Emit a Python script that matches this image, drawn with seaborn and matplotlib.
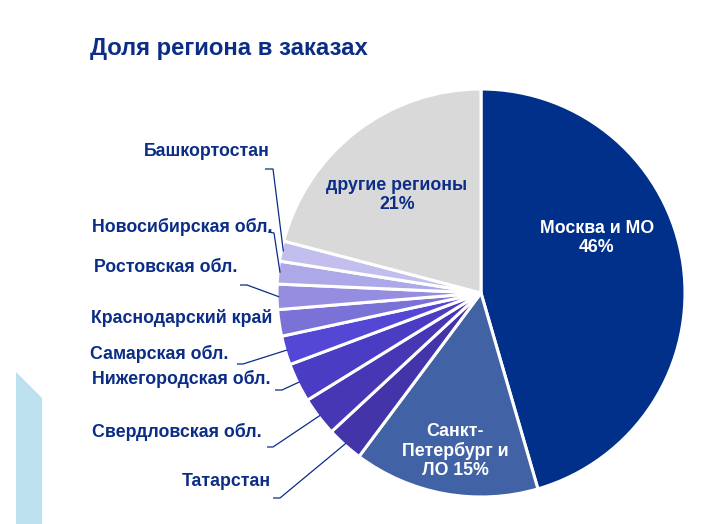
import numpy as np
import matplotlib
matplotlib.use("Agg")
import matplotlib.pyplot as plt
import seaborn as sns
from matplotlib.patches import Polygon

# ---- data ----
regions = ["Москва и МО", "Санкт-Петербург и ЛО", "Татарстан", "Свердловская обл.",
           "Нижегородская обл.", "Самарская обл.", "Краснодарский край",
           "Ростовская обл.", "Новосибирская обл.", "Башкортостан", "другие регионы"]
shares = [45.5, 14.7, 2.9, 3.1, 3.1, 2.3, 2.1, 2.0, 1.8, 1.6, 20.9]
inner_labels = {0: "Москва и МО\n46%", 1: "Санкт-\nПетербург и\nЛО 15%", 10: "другие регионы\n21%"}
colors = ["#00308A", "#4262A6", "#4334A9", "#4637B5", "#4B3DC3", "#5447D6",
          "#7B72D8", "#958DDF", "#ADA8E7", "#C2BFEF", "#D9D9D9"]

sns.set_theme(style="white")
plt.rcParams['font.family'] = ['Liberation Sans', 'DejaVu Sans']

W, H = 709, 524
fig = plt.figure(figsize=(W / 100, H / 100), dpi=100)
ax = fig.add_axes([0, 0, 1, 1])

def Y(y):
    return H - y

navy = "#0B2D86"

cx, cy, R = 481, Y(293), 204
wedges, _ = ax.pie(shares, colors=colors, startangle=90, counterclock=False,
                   center=(cx, cy), radius=R, frame=True,
                   wedgeprops=dict(edgecolor='white', linewidth=2.2))
ax.set_xlim(0, W)
ax.set_ylim(0, H)
ax.set_aspect('equal')
ax.axis('off')

# decorative shape
ax.add_patch(Polygon([(16, Y(372)), (42, Y(398)), (42, Y(524)), (16, Y(524))],
                     closed=True, facecolor="#BDE1EE", edgecolor="none", zorder=0))

# title
ax.text(90, Y(48), "Доля региона в заказах", fontsize=17.2, fontweight='bold',
        color=navy, ha='left', va='center')

# inner labels
inner_pos = {0: (597, 238), 1: (455, 451), 10: (397, 195)}
for i, txt in inner_labels.items():
    x, y = inner_pos[i]
    ax.text(x, Y(y), txt, fontsize=12.8, fontweight='bold', ha='center', va='center',
            color='white' if i != 10 else navy, linespacing=1.15)

# outer labels: (index, text right x, text center y, leader start, leader elbow)
outer = [
    (9, 270, 152, (265, 169), (273, 169)),
    (8, 272, 227, (268, 232), (274, 233)),
    (7, 237, 268, (240, 285), (247, 285)),
    (6, 272, 318, None, None),
    (5, 228, 354, (237, 364), (243, 364)),
    (4, 270, 379, (275, 390), (282, 390)),
    (3, 262, 432, (267, 447), (273, 447)),
    (2, 271, 482, (273, 498), (280, 498)),
]
for idx, xr, yc, p0, p1 in outer:
    ax.text(xr, Y(yc), regions[idx], fontsize=12.8, fontweight='bold', color=navy,
            ha='right', va='center')
    if p0 is not None:
        w = wedges[idx]
        ang = np.deg2rad((w.theta1 + w.theta2) / 2)
        ex = cx + R * 0.99 * np.cos(ang)
        ey = cy + R * 0.99 * np.sin(ang)
        ax.plot([p0[0], p1[0], ex], [Y(p0[1]), Y(p1[1]), ey], color=navy, lw=0.9,
                solid_capstyle='butt', zorder=5)

fig.savefig("out.png", dpi=100)
